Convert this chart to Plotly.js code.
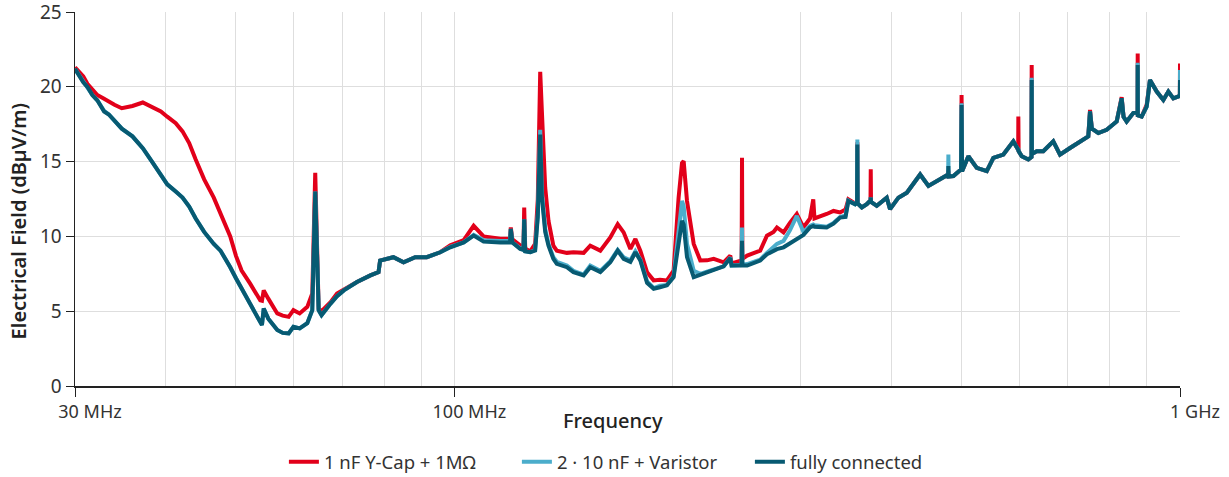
<!DOCTYPE html>
<html>
<head>
<meta charset="utf-8">
<script src="https://cdn.plot.ly/plotly-3.0.1.min.js"></script>
<style>html,body{margin:0;padding:0;background:#fff;}#chart{width:1229px;height:477px;}</style>
</head>
<body>
<div id="chart"></div>
<script>
// Frequency grid (MHz)
const freq = [
30.0,30.8,31.2,31.7,32.2,32.9,33.4,34.0,34.8,36.0,
37.2,38.3,39.4,40.2,41.3,42.2,43.1,44.0,45.2,46.6,
47.6,48.1,49.1,50.0,50.9,52.3,54.0,54.3,54.6,55.4,
57.0,58.0,59.1,60.0,61.2,62.7,63.7,64.3,65.0,65.6,
67.5,68.9,70.4,73.4,76.6,78.6,79.0,82.4,85.1,88.3,
91.6,95.6,98.7,103.0,106.3,109.7,115.7,119.3,119.6,120.2,
123.2,124.5,124.8,125.2,127.2,129.2,130.3,131.3,132.0,132.7,
133.4,134.8,136.9,138.4,142.9,145.9,150.7,153.9,158.9,164.0,
167.9,171.1,174.8,177.6,180.4,184.3,188.2,192.0,196.3,200.5,
203.7,205.9,207.0,209.2,213.7,218.2,222.9,227.7,235.0,240.0,
241.0,248.8,249.1,249.4,253.2,263.9,269.6,275.3,278.3,284.2,
290.0,296.4,302.7,309.1,312.3,313.5,325.9,333.0,340.0,346.0,
349.1,356.6,358.9,359.2,359.5,364.3,370.1,374.5,374.8,375.1,
382.0,394.3,398.5,409.2,420.3,438.4,450.1,467.1,479.2,479.5,
479.8,487.2,499.2,500.0,500.8,510.9,524.7,541.6,553.1,570.9,
589.3,598.4,598.7,599.2,605.2,618.0,624.2,624.6,625.0,634.6,
648.0,668.9,683.3,705.4,728.1,747.5,751.6,756.0,771.6,792.4,
818.0,831.0,836.0,844.3,862.2,874.1,874.4,874.7,885.5,899.7,
909.1,928.8,948.5,963.7,979.1,997.8,999.6,1000.0
];

// 1 nF Y-Cap + 1MΩ (dBµV/m)
const yCap = [
21.3,20.7,20.2,19.8,19.45,19.2,19.0,18.8,18.57,18.72,
18.95,18.68,18.35,18.0,17.57,17.02,16.24,15.14,13.81,12.59,
11.6,11.04,10.0,8.7,7.72,6.84,5.73,5.7,6.39,5.84,
4.85,4.7,4.62,5.07,4.85,5.29,6.18,14.25,5.18,5.0,
5.6,6.18,6.45,6.95,7.39,7.61,8.39,8.61,8.27,8.61,
8.61,8.94,9.4,9.75,10.71,10.0,9.85,9.85,10.6,9.8,
9.4,9.3,11.93,9.2,9.0,9.5,12.5,21.0,18.35,15.0,
13.25,11.04,9.38,9.05,8.9,8.94,8.9,9.38,9.05,9.93,
10.82,10.27,9.16,9.83,9.05,7.6,7.06,7.1,7.06,7.72,
12.59,14.9,15.03,12.37,9.5,8.39,8.4,8.5,8.27,8.72,
8.2,8.4,15.25,8.5,8.72,9.05,10.05,10.3,10.6,10.27,
10.9,11.49,10.6,11.2,12.48,11.2,11.5,11.7,11.6,11.8,
12.48,12.2,12.3,16.3,12.2,11.93,12.15,12.4,14.48,12.3,
12.04,12.59,11.82,12.59,12.92,14.14,13.37,13.81,14.14,14.4,
14.0,14.03,14.48,19.45,14.36,15.36,14.58,14.36,15.25,15.47,
16.35,15.8,18.01,15.7,15.36,15.14,15.3,21.45,15.5,15.69,
15.69,16.35,15.47,15.91,16.35,16.69,18.45,17.2,16.91,17.13,
17.68,19.3,18.0,17.68,18.24,18.3,22.22,18.1,18.01,18.8,
20.45,19.68,19.12,19.68,19.23,19.34,19.4,21.56
];

// 2 · 10 nF + Varistor (dBµV/m)
const varistor = [
21.2,20.35,20.0,19.45,19.1,18.4,18.15,17.7,17.2,16.69,
15.9,15.0,14.1,13.48,13.0,12.6,12.0,11.2,10.3,9.5,
9.05,8.7,7.94,7.2,6.5,5.4,4.2,4.07,5.18,4.5,
3.75,3.55,3.52,3.96,3.85,4.2,5.07,13.0,5.07,4.73,
5.51,6.0,6.39,6.95,7.39,7.61,8.39,8.61,8.27,8.61,
8.61,8.94,9.3,9.6,10.1,9.75,9.7,9.7,10.5,9.6,
9.2,9.1,11.15,9.0,8.94,9.1,11.5,17.13,13.0,11.9,
10.5,9.5,8.6,8.3,8.05,7.7,7.45,8.05,7.7,8.35,
9.1,8.6,8.4,9.0,8.45,7.0,6.55,6.7,6.75,7.35,
10.5,12.37,12.0,9.5,7.7,7.5,7.65,7.8,8.0,8.6,
8.05,8.1,10.6,8.1,8.15,8.45,8.9,9.3,9.5,9.7,
10.4,11.37,10.3,10.7,10.8,10.75,10.65,10.9,11.3,11.4,
12.4,12.15,12.3,16.47,12.2,11.93,12.15,12.4,12.6,12.3,
12.04,12.59,11.82,12.59,12.92,14.14,13.37,13.81,14.14,15.47,
14.0,14.03,14.48,18.9,14.36,15.36,14.58,14.36,15.25,15.47,
16.35,15.8,15.9,15.7,15.36,15.14,15.3,20.6,15.5,15.69,
15.69,16.35,15.47,15.91,16.35,16.69,18.35,17.2,16.91,17.13,
17.68,19.23,18.0,17.68,18.24,18.3,21.6,18.1,18.01,18.68,
20.45,19.68,19.12,19.68,19.23,19.34,19.4,21.12
];

// fully connected (dBµV/m)
const fullyConnected = [
21.2,20.3,20.0,19.45,19.1,18.35,18.15,17.7,17.2,16.69,
15.9,15.0,14.1,13.48,13.0,12.6,12.0,11.2,10.3,9.5,
9.05,8.7,7.94,7.2,6.5,5.4,4.2,4.07,5.18,4.5,
3.75,3.55,3.52,3.96,3.85,4.2,5.07,13.0,5.07,4.73,
5.51,6.0,6.39,6.95,7.39,7.61,8.39,8.61,8.27,8.61,
8.61,8.94,9.27,9.6,10.05,9.65,9.6,9.6,10.49,9.6,
9.16,9.1,11.15,9.0,8.94,9.05,11.3,16.8,12.6,11.7,
10.3,9.38,8.5,8.17,7.94,7.61,7.39,7.94,7.61,8.27,
9.05,8.5,8.3,8.94,8.39,6.9,6.5,6.6,6.73,7.28,
9.5,11.04,10.8,8.61,7.28,7.45,7.61,7.75,8.0,8.55,
8.05,8.05,9.71,8.05,8.05,8.39,8.8,9.05,9.15,9.27,
9.55,9.83,10.1,10.6,10.7,10.65,10.6,10.85,11.26,11.3,
12.37,12.15,12.3,16.14,12.2,11.93,12.15,12.4,12.6,12.3,
12.04,12.59,11.82,12.59,12.92,14.14,13.37,13.81,14.14,14.7,
14.0,14.03,14.48,18.79,14.36,15.36,14.58,14.36,15.25,15.47,
16.35,15.8,15.8,15.7,15.36,15.14,15.3,20.45,15.5,15.69,
15.69,16.35,15.47,15.91,16.35,16.69,18.35,17.2,16.91,17.13,
17.68,19.23,18.0,17.68,18.24,18.3,21.45,18.1,18.01,18.68,
20.45,19.68,19.12,19.68,19.23,19.34,19.4,20.45
];

const seriesNames = ['1 nF Y-Cap + 1MΩ', '2 · 10 nF + Varistor', 'fully connected'];
const xTickVals = [30, 100, 1000];
const xTickText = ['30 MHz', '100 MHz', '1 GHz'];
const xGridVals = [40, 50, 60, 70, 80, 90, 200, 300, 400, 500, 600, 700, 800, 900];
const yTickVals = [0, 5, 10, 15, 20, 25];

const colors = ['#e2001a', '#4badcb', '#075a72'];
const values = [yCap, varistor, fullyConnected];

const traces = values.map((v, i) => ({
  type: 'scatter', mode: 'lines', x: freq, y: v, name: seriesNames[i],
  line: {color: colors[i], width: 4, shape: 'linear'},
  hoverinfo: 'skip'
}));

const gridColor = '#dedede';
const layout = {
  width: 1229, height: 477,
  margin: {l: 75, r: 49, t: 12, b: 91, pad: 0, autoexpand: false},
  paper_bgcolor: '#ffffff', plot_bgcolor: '#ffffff',
  font: {family: 'Noto Sans, Open Sans, sans-serif', color: '#333333'},
  showlegend: true,
  xaxis: {
    type: 'log', range: [Math.log10(30), 3], automargin: false,
    tickmode: 'array', tickvals: xTickVals, ticktext: xTickText,
    ticks: 'outside', ticklen: 9, tickwidth: 1, tickcolor: '#222',
    showline: true, linecolor: '#222', linewidth: 1.5,
    showgrid: true, gridcolor: gridColor, gridwidth: 1, zeroline: false,
    tickfont: {size: 18, color: '#333'}, ticklabelshift: 15,
    minor: {tickmode: 'array', tickvals: xGridVals, showgrid: true, gridcolor: gridColor, gridwidth: 1, ticks: ''}
  },
  yaxis: {
    range: [0, 25], tickmode: 'array', tickvals: yTickVals, automargin: false,
    ticks: 'outside', ticklen: 8, tickwidth: 1, tickcolor: '#222',
    showline: true, linecolor: '#222', linewidth: 1.5,
    showgrid: true, gridcolor: gridColor, gridwidth: 1, zeroline: false,
    tickfont: {size: 19, color: '#333'}, ticklabeloverflow: 'allow'
  },
  legend: {
    orientation: 'h', xref: 'container', yref: 'container',
    x: 0.231, xanchor: 'left', y: 0.031, yanchor: 'middle',
    entrywidth: 188, entrywidthmode: 'pixels',
    font: {size: 18.5, color: '#333'}, bgcolor: 'rgba(0,0,0,0)'
  },
  annotations: [
    {xref: 'paper', yref: 'paper', x: 0, xshift: -57, y: 0.44, text: 'Electrical Field (dBµV/m)',
     textangle: -90, showarrow: false, xanchor: 'center', yanchor: 'middle',
     font: {size: 20, color: '#222', weight: 600}},
    {xref: 'paper', yref: 'paper', x: 0.487, y: -0.092, text: 'Frequency',
     showarrow: false, xanchor: 'center', yanchor: 'middle',
     font: {size: 20, color: '#222', weight: 500}}
  ]
};

Plotly.newPlot('chart', traces, layout, {staticPlot: true, displayModeBar: false});
</script>
</body>
</html>
